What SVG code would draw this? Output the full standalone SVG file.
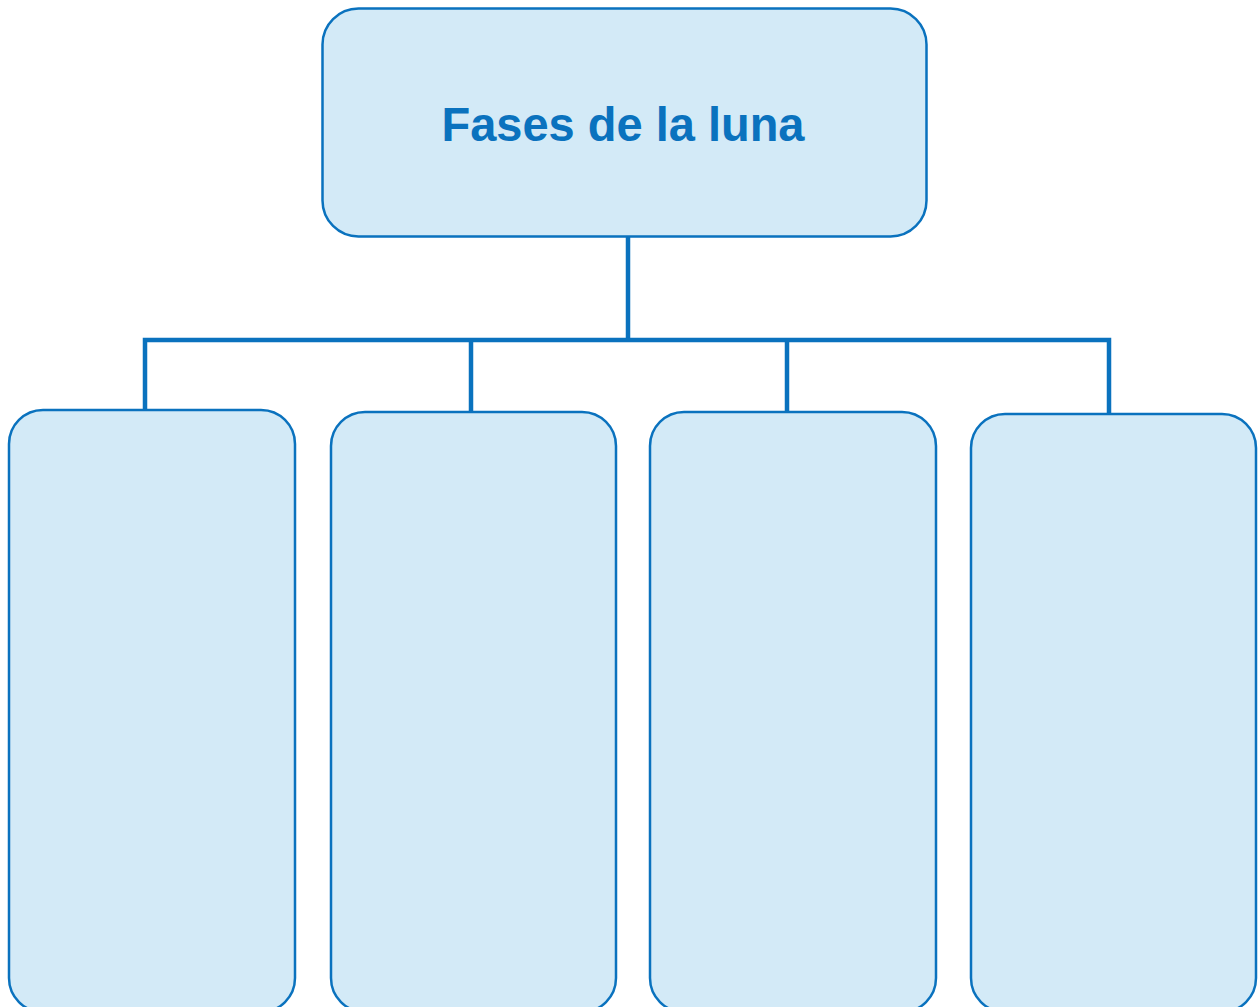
<svg xmlns="http://www.w3.org/2000/svg" width="1260" height="1007" viewBox="0 0 1260 1007">
<style>
.box{fill:#D3EAF7;stroke:#0A72BE;stroke-width:2.5}
.con{fill:none;stroke:#0A72BE;stroke-width:4.5;stroke-linecap:butt;stroke-linejoin:miter}
.title{font-family:"Liberation Sans",Arial,sans-serif;font-weight:bold;font-size:49px;fill:#0A72BE}
</style>
<rect width="1260" height="1007" fill="#FFFFFF"/>
<g id="connectors">
<path class="con" d="M628,236 V340"/>
<path class="con" d="M145,410 V340 H1109 V414"/>
<path class="con" d="M471,340 V412"/>
<path class="con" d="M787,340 V412"/>
</g>
<g id="root">
<rect class="box" x="322.5" y="8.5" width="604" height="228" rx="36" ry="36"/>
<text class="title" x="623" y="141" text-anchor="middle" textLength="363" lengthAdjust="spacingAndGlyphs">Fases de la luna</text>
</g>
<g id="child1"><rect class="box" x="9" y="410" width="286" height="602" rx="34" ry="34"/></g>
<g id="child2"><rect class="box" x="331" y="412" width="285" height="600" rx="34" ry="34"/></g>
<g id="child3"><rect class="box" x="650" y="412" width="286" height="600" rx="34" ry="34"/></g>
<g id="child4"><rect class="box" x="971" y="414" width="285" height="598" rx="34" ry="34"/></g>
</svg>
